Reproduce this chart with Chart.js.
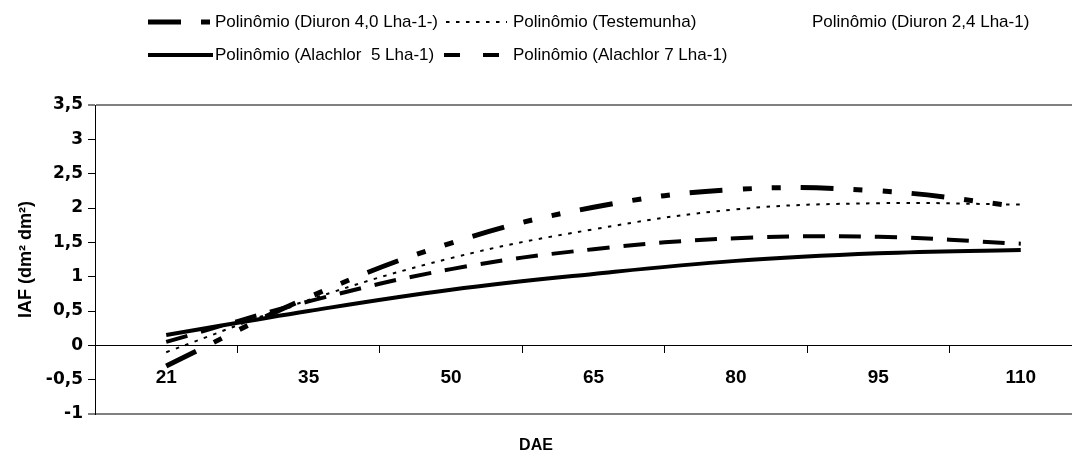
<!DOCTYPE html>
<html lang="pt-BR">
<head>
<meta charset="utf-8">
<title>IAF x DAE</title>
<script src="https://cdn.jsdelivr.net/npm/chart.js@4.4.1/dist/chart.umd.min.js"></script>
<style>
    html, body { margin: 0; padding: 0; background: #fff; overflow: hidden; }
    #moldura { width: 1072px; height: 456px; overflow: hidden; }
    #grafico { display: block; }
</style>
</head>
<body>
<div id="moldura"><canvas id="grafico" width="1100" height="456"></canvas></div>
<script>
// --- DADOS ---
const categoriasDAE = ['21', '35', '50', '65', '80', '95', '110'];
const diuron40   = [-0.30, 0.70, 1.49, 2.01, 2.27, 2.25, 2.02];
const testemunha = [-0.10, 0.66, 1.27, 1.69, 1.98, 2.07, 2.05];
const diuron24   = []; // linha branca no original, não aparece
const alachlor5  = [0.15, 0.50, 0.81, 1.04, 1.23, 1.34, 1.39];
const alachlor7  = [0.05, 0.64, 1.11, 1.40, 1.56, 1.58, 1.48];
const rotulosSeries = [
    'Polinômio (Diuron 4,0 Lha-1-)',
    'Polinômio (Testemunha)',
    'Polinômio (Diuron 2,4 Lha-1)',
    'Polinômio (Alachlor  5 Lha-1)',
    'Polinômio (Alachlor 7 Lha-1)'
];
const eixoYMin = -1;
const eixoYMax = 3.5;
const eixoYPasso = 0.5;

const fonte = "'Liberation Sans', Arial, sans-serif";
const fonteLarga = "'DejaVu Sans', 'Liberation Sans', sans-serif";

// posição de cada item da legenda (amostra da linha + texto)
const posLegenda = [
    { x: 148, y: 22, w: 65, tx: 215 },
    { x: 446, y: 22, w: 61, tx: 513 },
    { x: 745, y: 22, w: 61, tx: 812 },
    { x: 148, y: 55, w: 65, tx: 215 },
    { x: 444, y: 55, w: 59, tx: 513 }
];

// legenda desenhada à mão, no estilo do Excel (colunas fixas)
const legendaManual = {
    id: 'legendaManual',
    afterDraw(chart) {
        const ctx = chart.ctx;
        ctx.save();
        ctx.textBaseline = 'middle';
        ctx.textAlign = 'left';
        chart.data.datasets.forEach((ds, i) => {
            const p = posLegenda[i];
            ctx.beginPath();
            ctx.strokeStyle = ds.borderColor;
            ctx.lineWidth = ds.borderWidth;
            ctx.lineCap = 'butt';
            ctx.setLineDash(ds.legendaDash || ds.borderDash || []);
            ctx.moveTo(p.x, p.y);
            ctx.lineTo(p.x + p.w, p.y);
            ctx.stroke();
            ctx.setLineDash([]);
            ctx.fillStyle = '#000';
            ctx.font = '17px ' + fonte;
            ctx.fillText(ds.label, p.tx, p.y);
        });
        // título do eixo X (centrado na figura, como no original)
        ctx.font = 'bold 16px ' + fonte;
        ctx.textAlign = 'center';
        ctx.fillText('DAE', 536, 446);
        ctx.restore();
    }
};

document.addEventListener('DOMContentLoaded', () => {
    const ctx = document.getElementById('grafico').getContext('2d');

    new Chart(ctx, {
        type: 'line',
        data: {
            labels: categoriasDAE,
            datasets: [
                {
                    label: rotulosSeries[0],
                    data: diuron40,
                    borderColor: '#000000',
                    borderWidth: 5,
                    borderDash: [33, 20, 9, 20, 9, 20]
                },
                {
                    label: rotulosSeries[1],
                    data: testemunha,
                    borderColor: '#000000',
                    borderWidth: 2,
                    borderDash: [3.5, 6.5]
                },
                {
                    label: rotulosSeries[2],
                    data: diuron24,
                    borderColor: '#ffffff',
                    borderWidth: 3
                },
                {
                    label: rotulosSeries[3],
                    data: alachlor5,
                    borderColor: '#000000',
                    borderWidth: 4
                },
                {
                    label: rotulosSeries[4],
                    data: alachlor7,
                    borderColor: '#000000',
                    borderWidth: 4,
                    borderDash: [22, 14],
                    legendaDash: [16, 23]
                }
            ]
        },
        options: {
            responsive: false,
            devicePixelRatio: 1,
            animation: false,
            layout: { padding: { top: 105, right: 8, bottom: 42, left: 0 } },
            elements: {
                point: { radius: 0 },
                line: { tension: 0.4, borderCapStyle: 'butt', fill: false }
            },
            plugins: {
                legend: { display: false },
                tooltip: { enabled: false }
            },
            scales: {
                x: {
                    type: 'category',
                    position: { y: 0 },
                    offset: true,
                    grid: {
                        offset: true,
                        drawOnChartArea: false,
                        tickLength: 7,
                        color: '#000'
                    },
                    border: { display: true, color: '#000', width: 1 },
                    ticks: {
                        color: '#000',
                        padding: 14,
                        maxRotation: 0,
                        autoSkip: false,
                        font: { family: fonte, size: 19, weight: 'bold' }
                    }
                },
                y: {
                    min: eixoYMin,
                    max: eixoYMax,
                    afterFit: (scale) => { scale.width = 95; },
                    grid: {
                        color: (c) => (c.tick && (c.tick.value === eixoYMax || c.tick.value === eixoYMin)) ? '#808080' : 'rgba(0,0,0,0)',
                        lineWidth: (c) => (c.tick && (c.tick.value === eixoYMax || c.tick.value === eixoYMin)) ? 2 : 1,
                        tickColor: '#000',
                        tickWidth: 1,
                        tickLength: 7
                    },
                    border: { display: true, color: '#000', width: 1 },
                    ticks: {
                        stepSize: eixoYPasso,
                        color: '#000',
                        padding: 5,
                        font: { family: fonteLarga, size: 17, weight: 'bold' },
                        callback: (v) => String(v).replace('.', ',')
                    },
                    title: {
                        display: true,
                        text: 'IAF (dm² dm²)',
                        color: '#000',
                        padding: { top: 15, bottom: 0 },
                        font: { family: fonte, size: 18, weight: 'bold' }
                    }
                }
            }
        },
        plugins: [legendaManual]
    });
});
</script>
</body>
</html>
